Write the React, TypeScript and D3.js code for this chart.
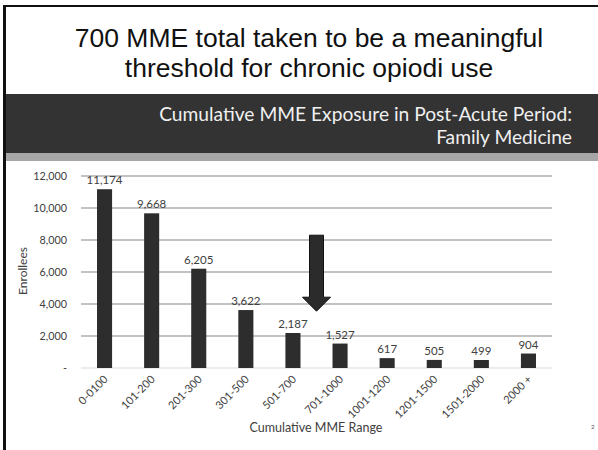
import React from "react";
import * as d3 from "d3";

// Cumulative MME exposure bins and enrollee counts
const categories = [
  "0-0100",
  "101-200",
  "201-300",
  "301-500",
  "501-700",
  "701-1000",
  "1001-1200",
  "1201-1500",
  "1501-2000",
  "2000 +",
];
const enrollees = [11174, 9668, 6205, 3622, 2187, 1527, 617, 505, 499, 904];
const yTicks = [0, 2000, 4000, 6000, 8000, 10000, 12000];

const titleLines = [
  "700 MME total taken to be a meaningful",
  "threshold for chronic opiodi use",
];
const bannerLines = [
  "Cumulative MME Exposure in Post-Acute Period:",
  "Family Medicine",
];

// Arrow annotation marks the 700 MME boundary, spanning these values
const arrowTopValue = 8300;
const arrowTipValue = 3550;

const W = 598;
const H = 450;
const chartFont = "Lato, 'Open Sans', sans-serif";
const textGrey = "#404040";

export default function App() {
  const x = d3
    .scaleBand<string>()
    .domain(categories)
    .range([81, 552])
    .paddingInner(0.68)
    .paddingOuter(0.34);
  const y = d3.scaleLinear().domain([0, 12000]).range([368, 176]);
  const fmt = d3.format(",");

  const center = (c: string) => (x(c) ?? 0) + x.bandwidth() / 2;
  const arrowX = (center("501-700") + center("701-1000")) / 2;
  const aTop = y(arrowTopValue);
  const aTip = y(arrowTipValue);
  const headLen = 14;
  const arrowPath = [
    [arrowX - 7, aTop],
    [arrowX + 7, aTop],
    [arrowX + 7, aTip - headLen],
    [arrowX + 14, aTip - headLen],
    [arrowX, aTip],
    [arrowX - 14, aTip - headLen],
    [arrowX - 7, aTip - headLen],
  ];
  const arrowD = d3.line()(arrowPath as [number, number][]) + "Z";

  return (
    <svg
      width={W}
      height={H}
      style={{ position: "absolute", left: 0, top: 0, background: "#fff" }}
    >
      {/* slide frame */}
      <rect x={3} y={5} width={3} height={H - 5} fill="#111" />
      <rect x={3} y={5} width={W - 3} height={2} fill="#111" />

      {/* slide title */}
      {titleLines.map((t, i) => (
        <text
          key={t}
          x={309}
          y={46.5 + i * 30.5}
          textAnchor="middle"
          fontFamily="'Liberation Sans', Arial, sans-serif"
          fontSize={26.5}
          fill="#111"
        >
          {t}
        </text>
      ))}

      {/* chart banner */}
      <rect x={6} y={94} width={W - 6} height={59} fill="#333333" />
      <rect x={6} y={153} width={W - 6} height={8} fill="#a6a6a6" />
      {bannerLines.map((t, i) => (
        <text
          key={t}
          x={572}
          y={121 + i * 23}
          textAnchor="end"
          fontFamily={chartFont}
          fontSize={19.2}
          fill="#f0f0f0"
        >
          {t}
        </text>
      ))}

      {/* gridlines and y axis labels */}
      {yTicks.map((v) => (
        <g key={v}>
          <line
            x1={81}
            x2={552}
            y1={y(v)}
            y2={y(v)}
            stroke={v === 0 ? "#d9d9d9" : "#868686"}
            strokeWidth={1.2}
          />
          <text
            x={67}
            y={y(v)}
            dy="0.35em"
            textAnchor="end"
            fontFamily={chartFont}
            fontSize={10.8}
            fill={textGrey}
          >
            {v === 0 ? "-" : fmt(v)}
          </text>
        </g>
      ))}

      {/* bars with value labels */}
      {categories.map((c, i) => (
        <g key={c}>
          <rect
            x={x(c)}
            y={y(enrollees[i])}
            width={x.bandwidth()}
            height={y(0) - y(enrollees[i])}
            fill="#2d2d2d"
          />
          <text
            x={center(c)}
            y={y(enrollees[i]) - 5}
            textAnchor="middle"
            fontFamily={chartFont}
            fontSize={11.5}
            fill={textGrey}
          >
            {fmt(enrollees[i])}
          </text>
          <text
            transform={`translate(${center(c) + 4},${y(0) + 12}) rotate(-45)`}
            textAnchor="end"
            fontFamily={chartFont}
            fontSize={11}
            fill={textGrey}
          >
            {c}
          </text>
        </g>
      ))}

      {/* axis titles */}
      <text
        transform="translate(27,271) rotate(-90)"
        textAnchor="middle"
        fontFamily={chartFont}
        fontSize={12}
        fill={textGrey}
      >
        Enrollees
      </text>
      <text
        x={316}
        y={432}
        textAnchor="middle"
        fontFamily={chartFont}
        fontSize={12.5}
        fill={textGrey}
      >
        Cumulative MME Range
      </text>

      {/* threshold arrow */}
      <path d={arrowD} fill="#2b2b2b" stroke="#111" strokeWidth={1} />

      {/* page number */}
      <text x={591} y={429} fontFamily={chartFont} fontSize={6} fill="#555">
        2
      </text>
    </svg>
  );
}
